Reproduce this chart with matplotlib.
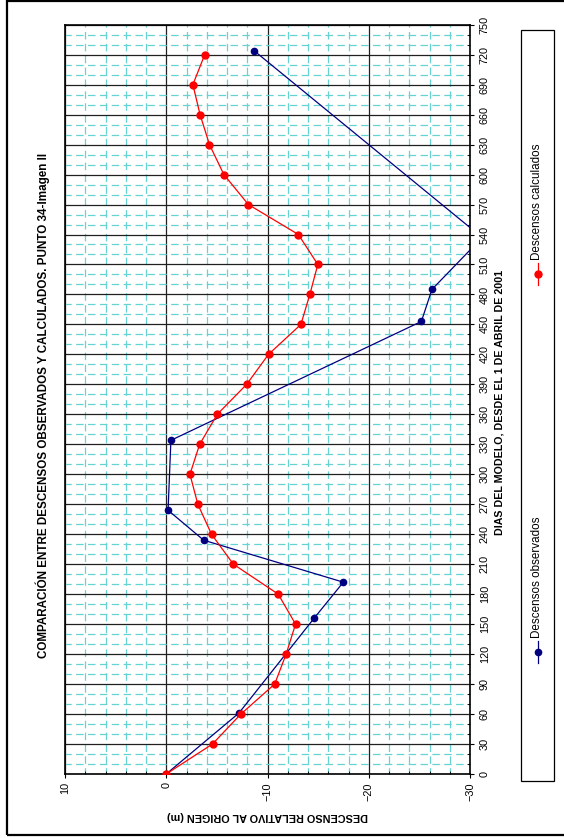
import matplotlib
matplotlib.use('Agg')
import matplotlib.pyplot as plt
from matplotlib.lines import Line2D
from matplotlib.patches import Rectangle
from matplotlib.ticker import MultipleLocator

plt.rcParams['font.family'] = ['Liberation Sans', 'DejaVu Sans']

# datos
dias_calc = [0, 30, 60, 90, 120, 150, 180, 210, 240, 270, 300, 330, 360,
             390, 420, 450, 480, 510, 540, 570, 600, 630, 660, 690, 720]
desc_calc = [0, -4.57, -7.37, -10.71, -11.84, -12.77, -11.06, -6.63, -4.47,
             -3.12, -2.34, -3.30, -5.04, -7.94, -10.10, -13.30, -14.18,
             -14.97, -13.05, -8.11, -5.69, -4.27, -3.34, -2.63, -3.80]

dias_obs = [0, 61, 156, 192, 234, 264, 334, 453, 485, 537, 724]
desc_obs = [0, -7.18, -14.61, -17.49, -3.70, -0.18, -0.46, -25.20, -26.24,
            -31.2, -8.67]

W, H = 564, 838
fig = plt.figure(figsize=(W / 100, H / 100), dpi=100)

def px(x, y):
    # pixel -> coordenadas de figura
    return x / W, 1 - y / H

# ejes girados: dias en vertical, descenso en horizontal
ax = fig.add_axes([65 / W, 1 - 774 / H, 405 / W, 749.3 / H])
ax.set_xlim(10, -30)
ax.set_ylim(0, 750)

ax.xaxis.set_major_locator(MultipleLocator(10))
ax.xaxis.set_minor_locator(MultipleLocator(2))
ax.yaxis.set_major_locator(MultipleLocator(30))
ax.yaxis.set_minor_locator(MultipleLocator(10))

cyan = '#66D2D2'
ax.grid(which='minor', color=cyan, lw=0.9, ls=(1, (6, 3.5)))
ax.grid(which='major', color='#202020', lw=0.9)
ax.set_axisbelow(True)

ax.plot(desc_obs, dias_obs, color='#000080', lw=0.9, marker='o', ms=4.5,
        zorder=3)
ax.plot(desc_calc, dias_calc, color='#FF0000', lw=0.9, marker='o', ms=5,
        zorder=4)

for s in ax.spines.values():
    s.set_color('black')
    s.set_linewidth(1.2)

ax.yaxis.tick_right()
ax.tick_params(axis='both', which='major', direction='out', length=3,
               labelsize=7.8, color='black')
ax.tick_params(axis='both', which='minor', direction='in', length=2.5,
               color='black')
ax.tick_params(axis='y', labelrotation=90, pad=4)
ax.tick_params(axis='x', labelrotation=90, pad=3)
ax.tick_params(left=False, top=False, which='both')
for lab in ax.get_yticklabels():
    lab.set_va('center')
    lab.set_ha('left')

ax.set_xlabel('DESCENSO RELATIVO AL ORIGEN (m)', fontsize=7.8,
              fontweight='bold', rotation=180, labelpad=7)

fig.text(*px(43, 405), 'COMPARACIÓN ENTRE DESCENSOS OBSERVADOS Y CALCULADOS. PUNTO 34-Imagen II',
         rotation=90, ha='center', va='center', fontsize=8.4, fontweight='bold')
fig.text(*px(500, 402), 'DIAS DEL MODELO, DESDE EL 1 DE ABRIL DE 2001',
         rotation=90, ha='center', va='center', fontsize=7.7, fontweight='bold')

# leyenda girada
fig.patches.append(Rectangle(px(521, 781), 33 / W, 751 / H, transform=fig.transFigure,
                             fill=False, edgecolor='black', lw=0.9))
lx = 537.5
fig.lines.append(Line2D([px(lx, 263)[0]] * 2, [px(lx, 263)[1], px(lx, 285)[1]],
                        transform=fig.transFigure, color='#FF0000', lw=0.9))
fig.lines.append(Line2D([px(lx, 274)[0]], [px(lx, 274)[1]], transform=fig.transFigure,
                        color='#FF0000', marker='o', ms=5))
fig.text(*px(lx, 260), 'Descensos calculados', rotation=90, rotation_mode='anchor',
         ha='left', va='center', fontsize=8.4)
fig.lines.append(Line2D([px(lx, 641)[0]] * 2, [px(lx, 641)[1], px(lx, 663)[1]],
                        transform=fig.transFigure, color='#000080', lw=0.9))
fig.lines.append(Line2D([px(lx, 652)[0]], [px(lx, 652)[1]], transform=fig.transFigure,
                        color='#000080', marker='o', ms=4.5))
fig.text(*px(lx, 638), 'Descensos observados', rotation=90, rotation_mode='anchor',
         ha='left', va='center', fontsize=8.4)

# marco exterior
fig.patches.append(Rectangle(px(6.5, 835), 570 / W, 833.5 / H, transform=fig.transFigure,
                             fill=False, edgecolor='black', lw=1.6))

fig.savefig('out.png', dpi=100)
